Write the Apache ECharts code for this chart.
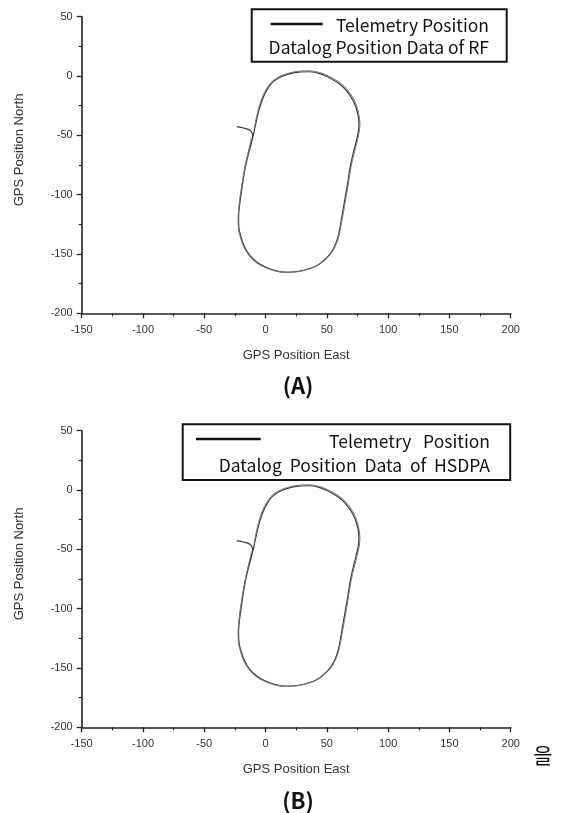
<!DOCTYPE html>
<html>
<head>
<meta charset="utf-8">
<script src="https://cdn.jsdelivr.net/npm/echarts@6.0.0/dist/echarts.min.js"></script>
<style>
  html, body { margin: 0; padding: 0; background: #fff; }
  #main { width: 564px; height: 813px; }
</style>
</head>
<body>
<div id="main"></div>
<script>
// axis ranges / ticks
const xRange = [-150, 200];
const yRange = [-200, 50];
const tickStep = 50;

// track (east, north)
const telemetryTrack = [
  [-23.5, -42.7], [-18, -43.8], [-14, -45], [-11.5, -47], [-10.5, -50], [-11, -54],
  [-12.5, -60], [-14.5, -68], [-16.5, -77], [-18.3, -88], [-20, -100], [-21.3, -110],
  [-22, -118], [-21.8, -127], [-20.5, -134], [-17.5, -143], [-13, -151], [-7, -157],
  [0, -161], [8, -164], [16, -165.3], [24, -165], [32, -163.5], [40, -160.8],
  [47, -156], [53, -149.5], [57, -142], [59.5, -134], [61, -126], [62.5, -117],
  [64.5, -105], [66.7, -92], [69, -77], [71.5, -65], [73.8, -56], [75.5, -48],
  [76.2, -41], [75.2, -32], [72.5, -23], [68, -15], [62, -8], [54, -2.5],
  [45, 1.8], [36, 3.6], [27, 3.3], [18, 1.4], [11, -1.5], [5, -6],
  [1.5, -11], [-1.5, -17], [-4, -24], [-6, -31], [-7.5, -38], [-8.8, -44],
  [-10, -50], [-12, -57], [-14.5, -67], [-16.7, -77], [-18.5, -88], [-20.2, -100],
  [-21.5, -111], [-22, -119]
];
const datalogTrack = [
  [-11.5, -52], [-13.2, -60], [-15.2, -69], [-17.2, -79], [-19, -90], [-20.7, -101],
  [-21.8, -111], [-22.4, -119], [-22.2, -128], [-20.8, -135], [-17.8, -144], [-13.3, -151.6],
  [-7.2, -157.6], [0, -161.6], [8, -164.4], [16, -165.6], [24, -165.3], [32, -163.8],
  [40, -161], [47.3, -156.3], [53.3, -149.8], [57.4, -142.3], [60, -134.3], [61.6, -126],
  [63.2, -117], [65.2, -105], [67.4, -92], [69.7, -77], [72.3, -65], [74.6, -56],
  [76.3, -48], [77, -40.5], [76, -31.5], [73.2, -22.3], [68.7, -14.2], [62.6, -7.2],
  [54.5, -1.7], [45.3, 2.6], [36, 4.4], [27, 4.1], [18, 2.2], [10.6, -0.8],
  [4.4, -5.4], [0.8, -10.6], [-2.2, -16.7], [-4.7, -23.8], [-6.6, -31], [-8.1, -38],
  [-9.3, -44.5]
];

const panelTops = [16.7, 430.7];
const legendTexts = [
  ['Telemetry Position', 'Datalog Position Data of RF'],
  ['Telemetry   Position', 'Datalog  Position  Data  of  HSDPA']
];
const captions = ['(A)', '(B)'];

const axisFont = 'Arial, "Liberation Sans", sans-serif';
const boxFont = '"Noto Sans CJK KR", "Noto Sans", sans-serif';

function makeXAxis(i) {
  return {
    gridIndex: i, type: 'value', min: xRange[0], max: xRange[1], interval: tickStep,
    name: 'GPS Position East', nameLocation: 'middle', nameGap: 36,
    nameTextStyle: { fontFamily: axisFont, fontSize: 13, color: '#333' },
    axisLine: { onZero: false, lineStyle: { color: '#222', width: 1.6 } },
    axisTick: { length: 5, lineStyle: { color: '#222', width: 1.3 } },
    minorTick: { show: true, splitNumber: 2, length: 3, lineStyle: { color: '#222', width: 1.2 } },
    splitLine: { show: false },
    axisLabel: { fontFamily: axisFont, fontSize: 11, color: '#333', margin: 11 }
  };
}
function makeYAxis(i) {
  return {
    gridIndex: i, type: 'value', min: yRange[0], max: yRange[1], interval: tickStep,
    name: 'GPS Position North', nameLocation: 'middle', nameGap: 56,
    nameTextStyle: { fontFamily: axisFont, fontSize: 13, color: '#333', padding: [0, 0, 0, 30] },
    axisLine: { onZero: false, lineStyle: { color: '#222', width: 1.6 } },
    axisTick: { length: 5, lineStyle: { color: '#222', width: 1.3 } },
    minorTick: { show: true, splitNumber: 2, length: 3, lineStyle: { color: '#222', width: 1.2 } },
    splitLine: { show: false },
    axisLabel: { fontFamily: axisFont, fontSize: 11, color: '#333', margin: 9 }
  };
}

const series = [];
[0, 1].forEach(i => {
  series.push({
    name: 'Telemetry Position', type: 'line', xAxisIndex: i, yAxisIndex: i,
    data: telemetryTrack, showSymbol: false, smooth: 0.3,
    lineStyle: { color: '#3c3c3c', width: 1.2 }
  });
  series.push({
    name: 'Datalog Position', type: 'line', xAxisIndex: i, yAxisIndex: i,
    data: datalogTrack, showSymbol: false, smooth: 0.3,
    lineStyle: { color: '#777', width: 1 }
  });
});

// legend boxes, captions
const boxes = [
  { x: 251.7, y: 9.3, w: 255, h: 52.4, line: [270.7, 322.7, 24], t1: 25, t2: 47, right: 489 },
  { x: 182.7, y: 424.3, w: 327.5, h: 55.7, line: [196, 260.7, 439], t1: 441.5, t2: 465, right: 490 }
];
const graphic = [];
boxes.forEach((b, i) => {
  graphic.push({ type: 'rect', shape: { x: b.x, y: b.y, width: b.w, height: b.h },
    style: { fill: '#fff', stroke: '#111', lineWidth: 2 } });
  graphic.push({ type: 'line', shape: { x1: b.line[0], y1: b.line[2], x2: b.line[1], y2: b.line[2] },
    style: { stroke: '#111', lineWidth: 2.5 } });
  graphic.push({ type: 'text', x: b.right, y: b.t1,
    style: { text: legendTexts[i][0], font: '17.5px ' + boxFont, fill: '#111', textAlign: 'right', textVerticalAlign: 'middle' } });
  graphic.push({ type: 'text', x: b.right, y: b.t2,
    style: { text: legendTexts[i][1], font: '17.5px ' + boxFont, fill: '#111', textAlign: 'right', textVerticalAlign: 'middle' } });
});
graphic.push({ type: 'text', x: 298, y: 386,
  style: { text: captions[0], font: 'bold 22px ' + boxFont, fill: '#111', textAlign: 'center', textVerticalAlign: 'middle' } });
graphic.push({ type: 'text', x: 298, y: 801,
  style: { text: captions[1], font: 'bold 22px ' + boxFont, fill: '#111', textAlign: 'center', textVerticalAlign: 'middle' } });
graphic.push({ type: 'text', x: 543, y: 755,
  style: { text: '을', font: '21px ' + boxFont, fill: '#111', textAlign: 'center', textVerticalAlign: 'middle' } });

const chart = echarts.init(document.getElementById('main'), null, { renderer: 'canvas' });
chart.setOption({
  animation: false,
  backgroundColor: '#fff',
  grid: panelTops.map(t => ({ left: 81.7, top: t, width: 429, height: 296.6 })),
  xAxis: [makeXAxis(0), makeXAxis(1)],
  yAxis: [makeYAxis(0), makeYAxis(1)],
  series: series,
  graphic: graphic
});
</script>
</body>
</html>
